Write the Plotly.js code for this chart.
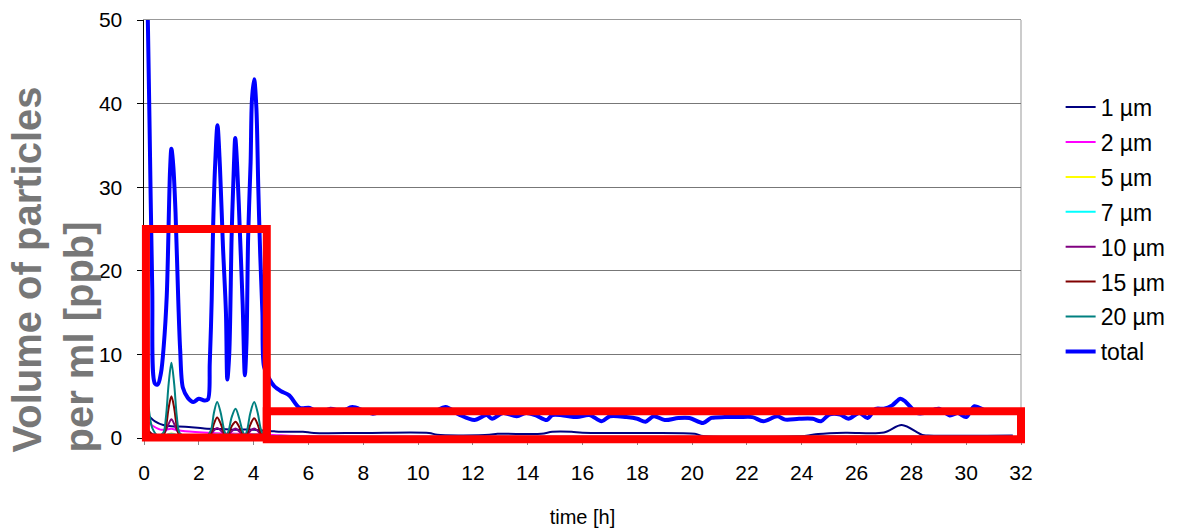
<!DOCTYPE html>
<html>
<head>
<meta charset="utf-8">
<script src="https://cdn.plot.ly/plotly-3.0.1.min.js"></script>
<style>html,body{margin:0;padding:0;background:#fff;}#chart{width:1182px;height:531px;}</style>
</head>
<body>
<div id="chart"></div>
<script>
// ---- data (time [h], volume [ppb]) ----
const seriesNames = ['1 µm','2 µm','5 µm','7 µm','10 µm','15 µm','20 µm','total'];
const seriesColors = ['#000080','#FF00FF','#FFFF00','#00FFFF','#800080','#800000','#008080','#0000FF'];

const totalPts = [[0.1,58],[0.2,38],[0.3,18],[0.4,6.5],[0.5,6.4],[0.62,7.8],[0.72,11],[0.83,17],[0.95,32],[1.0,34.6],[1.07,32.5],[1.15,27],[1.25,16.5],[1.32,10.5],[1.42,6.0],[1.6,4.8],[1.8,4.3],[2.0,4.7],[2.2,4.5],[2.33,4.6],[2.4,9],[2.47,16.5],[2.52,25],[2.6,33],[2.68,37.4],[2.77,32.5],[2.88,23],[2.99,15],[3.04,7.0],[3.11,10],[3.2,24.5],[3.28,32.5],[3.33,35.9],[3.4,32.5],[3.5,24.5],[3.6,16],[3.68,7.5],[3.74,11.5],[3.8,24],[3.89,33],[3.94,40.5],[4.02,42.9],[4.1,39.5],[4.17,30],[4.24,22],[4.32,15],[4.38,8.5],[4.55,7.2],[4.75,6.2],[5.0,5.6],[5.3,5.1],[5.68,3.6],[6.05,3.6],[6.4,3.0],[6.8,3.5],[7.2,3.2],[7.6,3.7],[8.0,3.3],[8.35,2.9],[8.8,3.3],[9.3,3.2],[9.8,3.3],[10.3,3.1],[10.6,3.2],[11.0,3.7],[11.5,2.8],[12.06,2.15],[12.5,2.75],[12.7,2.3],[13.1,3.0],[13.6,2.6],[13.95,3.0],[14.3,2.7],[14.7,2.15],[14.9,2.75],[15.3,2.7],[15.8,2.5],[16.25,2.75],[16.7,2.0],[17.0,2.6],[17.6,2.5],[18.0,2.3],[18.3,1.95],[18.6,2.6],[19.0,2.15],[19.5,2.4],[19.9,2.4],[20.4,1.8],[20.7,2.4],[21.2,2.5],[21.7,2.5],[22.2,2.5],[22.6,2.0],[23.1,2.6],[23.4,2.2],[23.9,2.3],[24.4,2.3],[24.7,2.0],[25.0,2.8],[25.4,2.8],[25.7,2.3],[26.1,3.0],[26.4,2.4],[26.7,3.5],[27.0,3.5],[27.3,3.9],[27.6,4.7],[27.8,4.3],[28.2,3.0],[28.5,3.0],[29.0,3.5],[29.4,2.7],[29.7,3.0],[30.0,2.5],[30.3,3.8],[30.7,3.3],[31.0,3.2],[31.5,3.0]];

const um1Pts = [[0.1,2.8],[0.2,2.55],[0.4,2.0],[0.7,1.55],[1.0,1.4],[1.5,1.35],[2.2,1.15],[3.0,1.05],[3.4,1.0],[4.0,1.0],[4.75,0.8],[5.0,0.75],[5.8,0.75],[6.2,0.6],[8,0.6],[10.4,0.6],[10.7,0.38],[12.6,0.38],[12.9,0.5],[14.5,0.5],[14.9,0.75],[15.6,0.75],[16,0.63],[18.3,0.6],[20.1,0.5],[20.4,0.25],[24.1,0.25],[24.6,0.48],[25.6,0.63],[27.0,0.65],[27.65,1.55],[28.4,0.36],[28.6,0.3],[31.7,0.3]];

const um2Pts = [[0.05,2.2],[0.3,1.5],[0.6,1.0],[0.8,1.0],[1.0,1.1],[1.2,0.95],[1.5,0.8],[2.5,0.6],[3.5,0.5],[4.5,0.4],[6,0.2],[10,0.15],[15,0.15],[20,0.15],[25,0.15],[31.7,0.15]];

// common time base for the size classes 5-20 µm
const tSmall = [0.05,0.15,0.3,0.5,0.7,0.8,0.9,1.0,1.1,1.2,1.3,1.5,2.0,2.3,2.45,2.55,2.67,2.8,2.92,3.0,3.08,3.2,3.34,3.47,3.6,3.68,3.76,3.88,4.02,4.15,4.27,4.4,5,7,10,14,18,22,26,30,31.7];
const um5  = [0.8,0.5,0.25,0.1,0.15,0.3,0.5,0.55,0.5,0.3,0.15,0.1,0.1,0.1,0.15,0.3,0.35,0.3,0.15,0.1,0.15,0.25,0.3,0.25,0.15,0.1,0.15,0.3,0.35,0.3,0.15,0.1,0.05,0.05,0.05,0.05,0.05,0.05,0.05,0.05,0.05];
const um7  = [0.6,0.4,0.2,0.1,0.15,0.3,0.45,0.5,0.45,0.3,0.15,0.1,0.1,0.1,0.2,0.35,0.45,0.35,0.2,0.1,0.2,0.35,0.45,0.35,0.2,0.1,0.2,0.35,0.45,0.35,0.2,0.1,0.05,0.05,0.05,0.05,0.05,0.05,0.05,0.05,0.05];
const um10 = [1.0,0.8,0.5,0.3,0.4,0.9,1.7,2.25,1.7,0.9,0.45,0.3,0.3,0.3,0.5,0.9,1.2,0.9,0.5,0.3,0.4,0.8,1.15,0.8,0.4,0.3,0.4,0.85,1.15,0.85,0.4,0.25,0.15,0.1,0.1,0.1,0.1,0.1,0.1,0.1,0.1];
const um15 = [1.5,1.0,0.4,0.15,0.3,1.3,3.6,5.0,3.6,1.3,0.3,0.15,0.15,0.15,0.6,1.7,2.45,1.7,0.6,0.2,0.5,1.4,1.95,1.35,0.5,0.2,0.5,1.6,2.35,1.6,0.5,0.15,0.1,0.08,0.08,0.08,0.08,0.08,0.1,0.08,0.08];
const um20 = [5.5,4.0,1.2,0.3,0.6,2.5,6.5,9.0,6.5,2.5,0.6,0.25,0.25,0.25,1.0,3.0,4.3,3.0,1.0,0.35,0.8,2.5,3.5,2.4,0.8,0.35,0.9,3.0,4.3,3.0,1.0,0.3,0.2,0.15,0.15,0.15,0.15,0.15,0.2,0.15,0.15];

const xTickVals = [0,2,4,6,8,10,12,14,16,18,20,22,24,26,28,30,32];
const yTickVals = [0,10,20,30,40,50];
// highlighted regions [t0, t1, v0, v1]
const boxes = [[0.07,4.48,0.05,25],[4.48,32.0,-0.15,3.2]];

// ---- build ----
const xs = p => p.map(d => d[0]);
const ys = p => p.map(d => d[1]);
const seriesX = [xs(um1Pts), xs(um2Pts), tSmall, tSmall, tSmall, tSmall, tSmall, xs(totalPts)];
const seriesY = [ys(um1Pts), ys(um2Pts), um5, um7, um10, um15, um20, ys(totalPts)];

const traces = seriesNames.map((n, i) => ({
  type: 'scatter', mode: 'lines', name: n,
  x: seriesX[i], y: seriesY[i],
  legendgroup: 'g' + i,
  line: {color: seriesColors[i], width: n === 'total' ? 4 : 2, shape: 'spline', smoothing: 0.9}
}));

const X0 = 0, X1 = 32, Y0 = 0, Y1 = 50;
const px = t => (t - X0) / (X1 - X0);
const py = v => (v - Y0) / (Y1 - Y0);
const shapes = boxes.map(b => ({
  type: 'rect', xref: 'paper', yref: 'paper', layer: 'above',
  x0: px(b[0]), x1: px(b[1]), y0: py(b[2]), y1: py(b[3]),
  line: {color: '#FF0000', width: 8}, fillcolor: 'rgba(0,0,0,0)'
}));
shapes.unshift({type: 'line', xref: 'paper', yref: 'paper', x0: 1, x1: 1, y0: 0, y1: 1,
  line: {color: '#999999', width: 1}, layer: 'below'});

const font = 'Liberation Sans, Arial, sans-serif';
const layout = {
  width: 1182, height: 531,
  margin: {l: 144, r: 160, t: 20, b: 93},
  paper_bgcolor: '#fff', plot_bgcolor: '#fff',
  font: {family: font, color: '#000', size: 21},
  showlegend: true,
  legend: {x: 1.044, xanchor: 'left', y: 0.843, yanchor: 'top', traceorder: 'grouped',
    tracegroupgap: 2, font: {size: 23, family: font, color: '#000'}, bgcolor: 'rgba(0,0,0,0)'},
  xaxis: {
    range: [X0, X1], tickvals: xTickVals, ticktext: xTickVals.map(String),
    ticks: 'outside', ticklen: 6, tickcolor: '#888', showgrid: false, zeroline: false,
    showline: true, linecolor: '#999', linewidth: 1, mirror: true,
    ticklabelstandoff: 10, tickfont: {size: 21, family: font, color: '#000'},
    title: {text: 'time [h]', font: {size: 20, family: font, color: '#000'}, standoff: 26}
  },
  yaxis: {
    range: [Y0, Y1], tickvals: yTickVals, ticktext: yTickVals.map(String),
    ticks: 'outside', ticklen: 6, tickcolor: '#000', showgrid: true, gridcolor: '#777', gridwidth: 1,
    zeroline: false, showline: true, linecolor: '#000', linewidth: 1.5,
    ticklabelstandoff: 10, tickfont: {size: 21, family: font, color: '#000'}
  },
  shapes: shapes,
  annotations: [{
    xref: 'paper', yref: 'paper', x: -0.104, y: -0.04, xanchor: 'center', yanchor: 'bottom',
    text: 'Volume of particles<br>per ml [ppb]', textangle: -90, align: 'left', showarrow: false,
    font: {size: 40, family: font, color: '#777777', weight: 'bold'}
  }]
};

Plotly.newPlot('chart', traces, layout, {displayModeBar: false, staticPlot: true});
</script>
</body>
</html>
